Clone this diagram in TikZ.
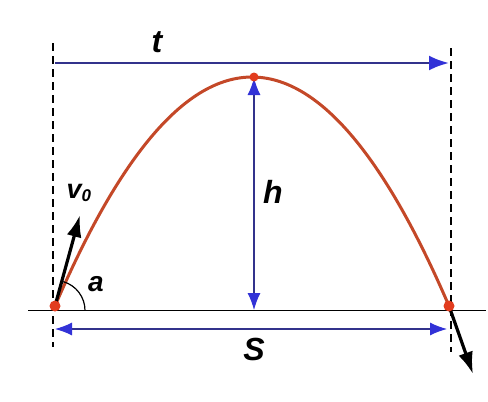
\documentclass[tikz,border=0pt]{standalone}
\usepackage{fontspec}
\setmainfont{Liberation Sans}
\usetikzlibrary{arrows.meta}
\definecolor{curvecol}{RGB}{196,72,40}
\definecolor{dotcol}{RGB}{226,60,30}
\definecolor{navy}{RGB}{50,50,140}
\definecolor{tipblue}{RGB}{50,50,215}
\begin{document}
\begin{tikzpicture}[x=1pt,y=-1pt,
  btip/.tip={Latex[length=17pt,width=13pt,color=tipblue]},
  dim/.style={draw=navy,line width=1.1pt,btip-btip},
  vel/.style={draw=black,line width=3.2pt,-{Latex[length=22pt,width=15pt]}},
  guide/.style={draw=black,line width=1.2pt,dash pattern=on 8pt off 5pt},
  lbl/.style={font=\fontsize{32}{32}\selectfont\bfseries\itshape,inner sep=0pt},
  dot/.style={circle,fill=dotcol,minimum size=11pt,inner sep=0pt}]
\useasboundingbox (0,0) rectangle (488,402);
\fill[white] (0,0) rectangle (488,402);
% guides
\coordinate (L1) at (53,43);
\coordinate (L2) at (53,347);
\coordinate (R1) at (451,48);
\coordinate (R2) at (451,352);
\draw[guide] (L1) -- (L2);
\draw[guide] (R1) -- (R2);
% ground
\coordinate (G1) at (28,310.5);
\coordinate (G2) at (486,310.5);
\draw[black,line width=1.2pt] (G1) -- (G2);
% points
\coordinate (A) at (55,306);
\coordinate (B) at (449,306);
\coordinate (C) at (254,77);
% trajectory
\draw[curvecol,line width=3pt] (A) .. controls (186.3,0.7) and (317.7,0.7) .. (B);
% t arrow
\coordinate (T1) at (55,63);
\coordinate (T2) at (449,63);
\draw[draw=navy,line width=2.6pt,-{Latex[length=20pt,width=15pt,color=tipblue]}] (T1) -- (T2);
\node[lbl] (t) at (157,42) {t};
% h arrow
\coordinate (H1) at (254,78);
\coordinate (H2) at (254,310);
\draw[dim] (H1) -- (H2);
\node[lbl] (h) at (273,192) {h};
% S arrow
\coordinate (S1) at (55,329);
\coordinate (S2) at (447,329);
\draw[dim] (S1) -- (S2);
\node[lbl] (S) at (254,349) {S};
% velocity vectors
\coordinate (V1) at (80,215);
\coordinate (V2) at (473,374);
\draw[vel] (A) -- (V1);
\draw[vel] (B) -- (V2);
\node[lbl,font=\fontsize{27}{27}\selectfont\bfseries\itshape] (v) at (79,193) {v\textsubscript{\fontsize{17}{17}\selectfont 0}};
% angle
\draw[black,line width=1.2pt] (85,310.5) arc[start angle=0,end angle=-74,radius=30];
\node[lbl,font=\fontsize{28}{28}\selectfont\bfseries\itshape] (a) at (96,284) {a};
% dots
\node[dot] (dA) at (A) {};
\node[dot] (dB) at (B) {};
\node[dot,minimum size=9pt] (dC) at (C) {};
\end{tikzpicture}
\end{document}
